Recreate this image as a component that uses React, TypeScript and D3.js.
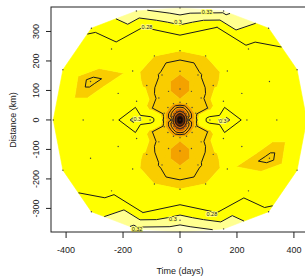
import React, { useEffect, useRef } from "react";
import * as d3 from "d3";

// variogram map: directions (deg) x lag rings
const lagDirections = [0, 22.5, 45, 67.5, 90, 112.5, 135, 157.5, 180, 202.5, 225, 247.5, 270, 292.5, 315, 337.5];
const lagRadii = [30, 60, 105, 165, 235, 340];
const outerRadii = [445, 445, 440, 400, 380, 400, 440, 445, 445, 445, 440, 400, 380, 400, 440, 445];
const centerGamma = 0.0;
const gammaByDirection = [
  [0.2, 0.245, 0.295, 0.305, 0.27, 0.27, 0.27],
  [0.17, 0.235, 0.24, 0.268, 0.268, 0.268, 0.268],
  [0.16, 0.235, 0.236, 0.247, 0.254, 0.275, 0.29],
  [0.15, 0.225, 0.228, 0.238, 0.25, 0.28, 0.325],
  [0.14, 0.23, 0.21, 0.228, 0.25, 0.31, 0.335],
  [0.15, 0.225, 0.228, 0.238, 0.25, 0.28, 0.315],
  [0.16, 0.235, 0.236, 0.247, 0.254, 0.272, 0.282],
  [0.17, 0.235, 0.24, 0.268, 0.268, 0.235, 0.268],
  [0.2, 0.245, 0.295, 0.305, 0.27, 0.27, 0.27],
  [0.17, 0.235, 0.24, 0.268, 0.268, 0.268, 0.268],
  [0.16, 0.235, 0.236, 0.247, 0.254, 0.275, 0.29],
  [0.15, 0.225, 0.228, 0.238, 0.25, 0.28, 0.325],
  [0.14, 0.23, 0.21, 0.228, 0.25, 0.31, 0.335],
  [0.15, 0.225, 0.228, 0.238, 0.25, 0.28, 0.315],
  [0.16, 0.235, 0.236, 0.247, 0.254, 0.272, 0.282],
  [0.17, 0.235, 0.24, 0.268, 0.268, 0.235, 0.268],
];

const fillBreaks = [0.07, 0.12, 0.17, 0.225, 0.25, 0.3, 0.32, 0.34];
const fillColors = ["#1c0800", "#6e2a00", "#d66a00", "#f4a200", "#f9cd00", "#ffff00", "#ffff90", "#ffffc4", "#ffffe8"];
const lineLevels = [0.06, 0.1, 0.14, 0.18, 0.2, 0.24, 0.28, 0.3, 0.32];

const contourLabels = [
  { text: "0.28", t: -116, d: 315 },
  { text: "0.3", t: -7, d: 332 },
  { text: "0.32", t: 95, d: 366 },
  { text: "0.28", t: 112, d: -319 },
  { text: "0.3", t: -25, d: -336 },
  { text: "0.32", t: -151, d: -369 },
  { text: "0.3", t: -150, d: 3 },
  { text: "0.3", t: 150, d: -3 },
];

const xTicks = [-400, -200, 0, 200, 400];
const yTicks = [-300, -200, -100, 0, 100, 200, 300];

type V = [number, number, number];

function clipLevel(poly: V[], level: number, keepAbove: boolean): V[] {
  const out: V[] = [];
  for (let i = 0; i < poly.length; i++) {
    const a = poly[i], b = poly[(i + 1) % poly.length];
    const ina = keepAbove ? a[2] >= level : a[2] < level;
    const inb = keepAbove ? b[2] >= level : b[2] < level;
    if (ina !== inb) {
      const s = (level - a[2]) / (b[2] - a[2]);
      out.push([a[0] + s * (b[0] - a[0]), a[1] + s * (b[1] - a[1]), level]);
    }
    if (inb) out.push(b);
  }
  return out;
}

export default function App() {
  const svgRef = useRef<SVGSVGElement>(null);

  useEffect(() => {
    const width = 305, height = 280;
    const x = d3.scaleLinear().domain([-453, 453]).range([51, 309]);
    const y = d3.scaleLinear().domain([-380, 383]).range([232, 7]);

    const svg = d3.select(svgRef.current);
    svg.selectAll("*").remove();
    svg.attr("width", width).attr("height", height);

    // sample points
    const pts: V[] = [[x(0), y(0), centerGamma]];
    lagDirections.forEach((deg, k) => {
      const a = (deg * Math.PI) / 180;
      const radii = [...lagRadii, outerRadii[k]];
      radii.forEach((r, i) => {
        pts.push([x(r * Math.cos(a)), y(r * Math.sin(a)), gammaByDirection[k][i]]);
      });
    });

    const delaunay = d3.Delaunay.from(pts, (p) => p[0], (p) => p[1]);
    const tris: V[][] = [];
    for (let i = 0; i < delaunay.triangles.length; i += 3) {
      tris.push([pts[delaunay.triangles[i]], pts[delaunay.triangles[i + 1]], pts[delaunay.triangles[i + 2]]]);
    }

    svg.append("defs").append("clipPath").attr("id", "plotclip")
      .append("rect").attr("x", 51).attr("y", 7).attr("width", 258).attr("height", 225);

    const plot = svg.append("g").attr("clip-path", "url(#plotclip)");

    // filled bands
    fillColors.forEach((col, b) => {
      const lo = b === 0 ? -Infinity : fillBreaks[b - 1];
      const hi = b === fillBreaks.length ? Infinity : fillBreaks[b];
      let d = "";
      tris.forEach((t) => {
        let poly = t;
        if (lo > -Infinity) poly = clipLevel(poly, lo, true);
        if (poly.length && hi < Infinity) poly = clipLevel(poly, hi, false);
        if (poly.length >= 3) d += "M" + poly.map((p) => p[0].toFixed(2) + "," + p[1].toFixed(2)).join("L") + "Z";
      });
      if (d) plot.append("path").attr("d", d).attr("fill", col).attr("stroke", col).attr("stroke-width", 0.6);
    });

    // contour lines
    lineLevels.forEach((lv) => {
      let d = "";
      tris.forEach((t) => {
        const hits: [number, number][] = [];
        for (let i = 0; i < 3; i++) {
          const a = t[i], b = t[(i + 1) % 3];
          if ((a[2] < lv) !== (b[2] < lv)) {
            const s = (lv - a[2]) / (b[2] - a[2]);
            hits.push([a[0] + s * (b[0] - a[0]), a[1] + s * (b[1] - a[1])]);
          }
        }
        if (hits.length === 2) d += `M${hits[0][0].toFixed(2)},${hits[0][1].toFixed(2)}L${hits[1][0].toFixed(2)},${hits[1][1].toFixed(2)}`;
      });
      plot.append("path").attr("d", d).attr("fill", "none").attr("stroke", "#1a1a1a").attr("stroke-width", 1);
    });

    // sample dots
    plot.selectAll(".dot").data(pts).join("circle")
      .attr("cx", (p) => p[0]).attr("cy", (p) => p[1]).attr("r", 0.7).attr("fill", "#444");

    // contour labels
    plot.selectAll(".lbl").data(contourLabels).join("text")
      .attr("x", (l) => x(l.t)).attr("y", (l) => y(l.d) + 2)
      .attr("text-anchor", "middle").attr("font-size", 5.5)
      .attr("font-family", "Liberation Sans, Arial, sans-serif")
      .attr("fill", "#222").attr("stroke", "#ffff70").attr("stroke-width", 2)
      .attr("paint-order", "stroke")
      .text((l) => l.text);

    // box
    svg.append("rect").attr("x", 51).attr("y", 7).attr("width", 258).attr("height", 225)
      .attr("fill", "none").attr("stroke", "#222").attr("stroke-width", 1);

    const font = "Liberation Sans, Arial, sans-serif";
    // x axis
    const gx = svg.append("g");
    gx.selectAll("line").data(xTicks).join("line")
      .attr("x1", (t) => x(t)).attr("x2", (t) => x(t)).attr("y1", 232).attr("y2", 238)
      .attr("stroke", "#222");
    gx.selectAll("text").data(xTicks).join("text")
      .attr("x", (t) => x(t)).attr("y", 253).attr("text-anchor", "middle")
      .attr("font-size", 9).attr("font-family", font).attr("fill", "#222")
      .text((t) => String(t));
    svg.append("text").attr("x", x(0)).attr("y", 274).attr("text-anchor", "middle")
      .attr("font-size", 9).attr("font-family", font).attr("fill", "#222").text("Time (days)");

    // y axis
    const gy = svg.append("g");
    gy.selectAll("line").data(yTicks).join("line")
      .attr("x1", 46).attr("x2", 51).attr("y1", (t) => y(t)).attr("y2", (t) => y(t))
      .attr("stroke", "#222");
    gy.selectAll("text").data(yTicks).join("text")
      .attr("transform", (t) => `translate(39,${y(t)}) rotate(-90)`)
      .attr("text-anchor", "middle")
      .attr("font-size", 9).attr("font-family", font).attr("fill", "#222")
      .text((t) => String(t));
    svg.append("text").attr("transform", `translate(16,${y(0)}) rotate(-90)`)
      .attr("text-anchor", "middle")
      .attr("font-size", 9).attr("font-family", font).attr("fill", "#222").text("Distance (km)");
  }, []);

  return <svg ref={svgRef} style={{ position: "absolute", left: 0, top: 0, background: "white" }} />;
}
